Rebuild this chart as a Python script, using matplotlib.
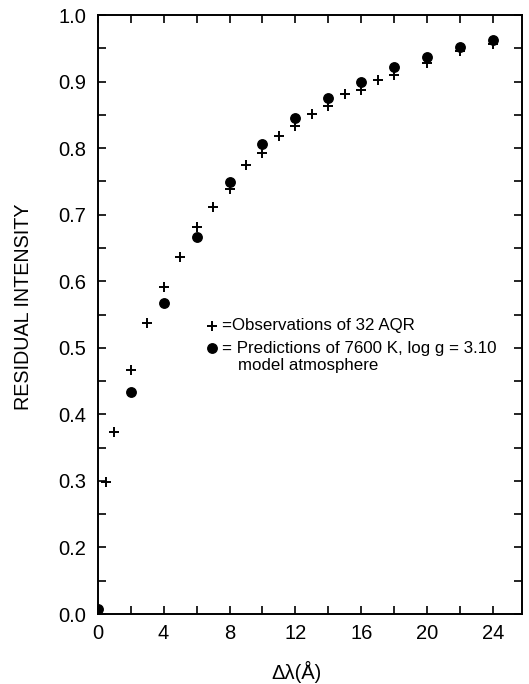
import numpy as np
import matplotlib
matplotlib.use("Agg")
import matplotlib.pyplot as plt
from matplotlib.ticker import FixedLocator, FixedFormatter

plt.rcParams['font.family'] = ['Liberation Sans', 'DejaVu Sans']

# Observations of 32 AQR (plus markers)
obs_x = [0.5, 1, 2, 3, 4, 5, 6, 7, 8, 9, 10, 11, 12, 13, 14, 15, 16, 17, 18, 20, 22, 24]
obs_y = [0.298, 0.374, 0.467, 0.537, 0.591, 0.636, 0.681, 0.712, 0.738, 0.775, 0.793,
         0.818, 0.834, 0.852, 0.864, 0.881, 0.888, 0.902, 0.910, 0.928, 0.946, 0.957]

# Predictions of model atmosphere (filled circles)
pred_x = [0, 2, 4, 6, 8, 10, 12, 14, 16, 18, 20, 22, 24]
pred_y = [0.015, 0.433, 0.567, 0.667, 0.749, 0.806, 0.845, 0.876, 0.900, 0.922, 0.937, 0.952, 0.962]

xticks_major = [0, 4, 8, 12, 16, 20, 24]
xticks_minor = [2, 6, 10, 14, 18, 22]
yticks_major = [0.0, 0.2, 0.3, 0.4, 0.5, 0.6, 0.7, 0.8, 0.9, 1.0]
ytick_labels = ["0.0", "0.2", "0.3", "0.4", "0.5", "0.6", "0.7", "0.8", "0.9", "1.0"]
yticks_minor = [0.1, 0.25, 0.35, 0.45, 0.55, 0.65, 0.75, 0.85, 0.95]


def fwd(y):
    y = np.asarray(y, dtype=float)
    return np.where(y < 0.2, 0.1 + y / 2.0, y)


def inv(v):
    v = np.asarray(v, dtype=float)
    return np.where(v < 0.2, (v - 0.1) * 2.0, v)


fig = plt.figure(figsize=(5.29, 6.84), dpi=100)
ax = fig.add_axes([0.1847, 0.1023, 0.8026, 0.8757])
ax.set_yscale('function', functions=(fwd, inv))

ax.plot(obs_x, obs_y, linestyle='none', marker='+', markersize=7.5,
        markeredgewidth=1.4, color='black', zorder=3)
ax.plot(pred_x, pred_y, linestyle='none', marker='o', markersize=6.8,
        color='black', zorder=4)

ax.set_xlim(0, 25.77)
ax.set_ylim(0.0, 1.0)

ax.xaxis.set_major_locator(FixedLocator(xticks_major))
ax.xaxis.set_minor_locator(FixedLocator(xticks_minor))
ax.yaxis.set_major_locator(FixedLocator(yticks_major))
ax.yaxis.set_major_formatter(FixedFormatter(ytick_labels))
ax.yaxis.set_minor_locator(FixedLocator(yticks_minor))
ax.yaxis.set_minor_formatter(FixedFormatter([]))

for which in ('major', 'minor'):
    ax.tick_params(axis='both', which=which, direction='in', length=6, width=1.2,
                   top=True, right=True, color='black')
ax.tick_params(axis='x', which='major', labelsize=14.5, pad=7)
ax.tick_params(axis='y', which='major', labelsize=14.5, pad=8)

for sp in ax.spines.values():
    sp.set_linewidth(1.4)

fig.text(24 / 529, 1 - 307 / 684, "RESIDUAL INTENSITY", rotation=90,
         ha='center', va='center', fontsize=14.2)
fig.text(297 / 529, 1 - 672 / 684, "Δλ(Å)", ha='center', va='center', fontsize=14.5)

# Legend (manual)
ax.plot([0.2685], [0.481], transform=ax.transAxes, marker='+', markersize=7.5,
        markeredgewidth=1.4, color='black', linestyle='none', clip_on=False)
ax.plot([0.2685], [0.4436], transform=ax.transAxes, marker='o', markersize=6.8,
        color='black', linestyle='none', clip_on=False)
ax.text(0.2925, 0.481, "=Observations of 32 AQR", transform=ax.transAxes,
        ha='left', va='center', fontsize=12.2)
ax.text(0.2925, 0.4436, "= Predictions of 7600 K, log g = 3.10", transform=ax.transAxes,
        ha='left', va='center', fontsize=12.2)
ax.text(0.3297, 0.4146, "model atmosphere", transform=ax.transAxes,
        ha='left', va='center', fontsize=12.2)

fig.savefig("out.png", dpi=100)
